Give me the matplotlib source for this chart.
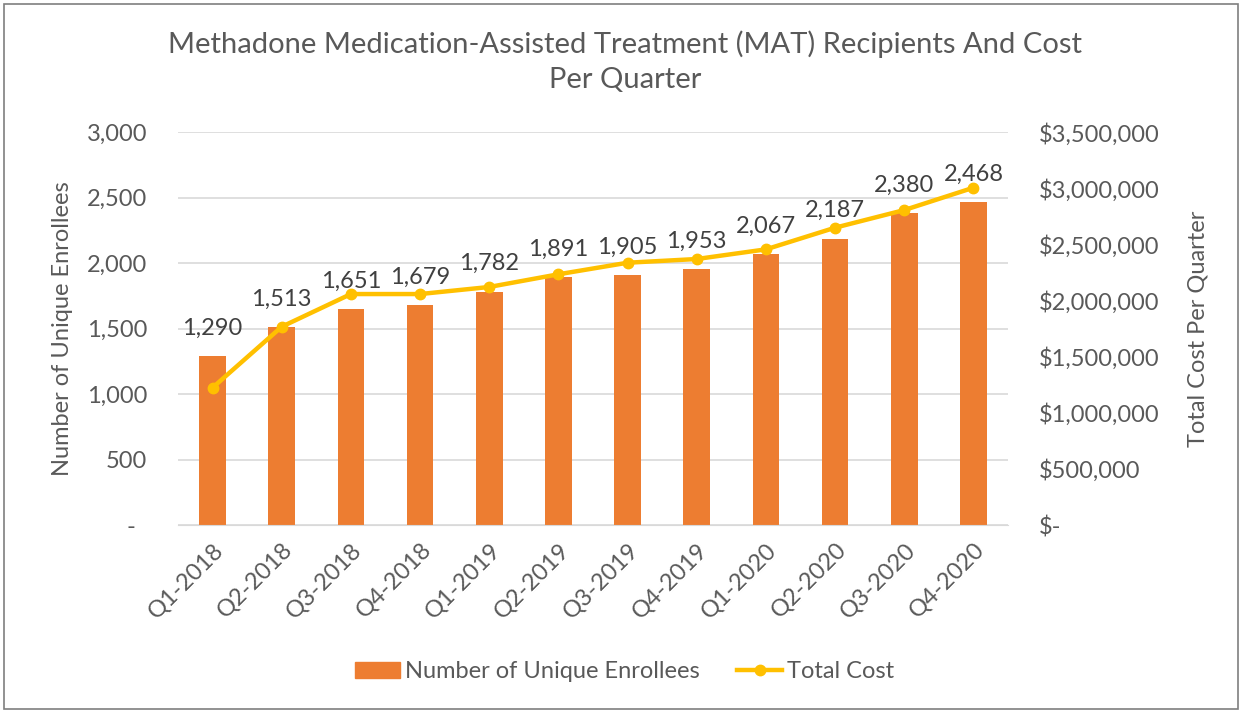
import matplotlib.pyplot as plt
from matplotlib.patches import Rectangle
from matplotlib.lines import Line2D
from matplotlib.ticker import FuncFormatter

plt.rcParams['font.family'] = ['Lato', 'DejaVu Sans']

quarters = ['Q1-2018', 'Q2-2018', 'Q3-2018', 'Q4-2018',
            'Q1-2019', 'Q2-2019', 'Q3-2019', 'Q4-2019',
            'Q1-2020', 'Q2-2020', 'Q3-2020', 'Q4-2020']
enrollees = [1290, 1513, 1651, 1679, 1782, 1891, 1905, 1953, 2067, 2187, 2380, 2468]
total_cost = [1223000, 1766000, 2057000, 2057000, 2120000, 2233000,
              2336000, 2369000, 2455000, 2648000, 2805000, 3004000]

BAR = '#ED7D31'
LINE = '#FFC000'
TXT = '#595959'
GRID = '#D9D9D9'
FS = 17

fig = plt.figure(figsize=(12.42, 7.11), dpi=100)
ax = fig.add_axes([0.1433, 0.2616, 0.8116 - 0.1433, 0.8143 - 0.2616])
ax2 = ax.twinx()

x = range(len(quarters))
ax.bar(x, enrollees, width=0.385, color=BAR, zorder=2)
ax2.plot(x, total_cost, color=LINE, lw=3.2, marker='o', ms=7.5, zorder=3)

# value labels above each bar
for xi, v in zip(x, enrollees):
    ax.annotate(f'{v:,}', (xi, v), xytext=(0, 20), textcoords='offset points',
                ha='center', va='center', fontsize=FS, color='#404040', zorder=5)

ax.set_ylim(0, 3000)
ax.set_yticks(range(0, 3001, 500))
ax.yaxis.set_major_formatter(FuncFormatter(lambda v, p: '-  ' if v == 0 else f'{int(v):,}'))
ax2.set_ylim(0, 3500000)
ax2.set_yticks(range(0, 3500001, 500000))
ax2.yaxis.set_major_formatter(FuncFormatter(lambda v, p: '$-' if v == 0 else f'${int(v):,}'))
ax.set_xlim(-0.5, len(quarters) - 0.5)
ax.set_xticks(list(x))
ax.set_xticklabels(quarters, rotation=45, ha='right', rotation_mode='anchor')

ax.grid(axis='y', color=GRID, lw=1.2, zorder=0)
ax.set_axisbelow(True)
for a in (ax, ax2):
    for s in a.spines.values():
        s.set_visible(False)
    a.tick_params(length=0, labelsize=FS, colors=TXT)
ax.spines['bottom'].set_visible(True)
ax.spines['bottom'].set_color(GRID)
ax.tick_params(axis='y', pad=22)
ax.tick_params(axis='x', pad=10)
ax2.tick_params(axis='y', pad=22)

ax.set_ylabel('Number of Unique Enrollees', fontsize=FS, color=TXT, labelpad=10)
ax2.set_ylabel('Total Cost Per Quarter', fontsize=FS, color=TXT, labelpad=20)

fig.text(0.503, 0.9135, 'Methadone Medication-Assisted Treatment (MAT) Recipients And Cost\nPer Quarter',
         ha='center', va='center', fontsize=21, color=TXT, linespacing=1.4)

handles = [Rectangle((0, 0), 1, 1, color=BAR),
           Line2D([], [], color=LINE, lw=3.2, marker='o', ms=7.5)]
fig.legend(handles, ['Number of Unique Enrollees', 'Total Cost'], loc='center',
           bbox_to_anchor=(0.503, 0.055), ncol=2, frameon=False, fontsize=FS,
           labelcolor=TXT, handlelength=1.9, columnspacing=1.6, handletextpad=0.2)

# thin frame around the whole figure
fig.add_artist(Rectangle((0.003, 0.003), 0.994, 0.991, transform=fig.transFigure,
                         fill=False, edgecolor='#7F7F7F', lw=1.2))

fig.savefig('out.png', dpi=100)
